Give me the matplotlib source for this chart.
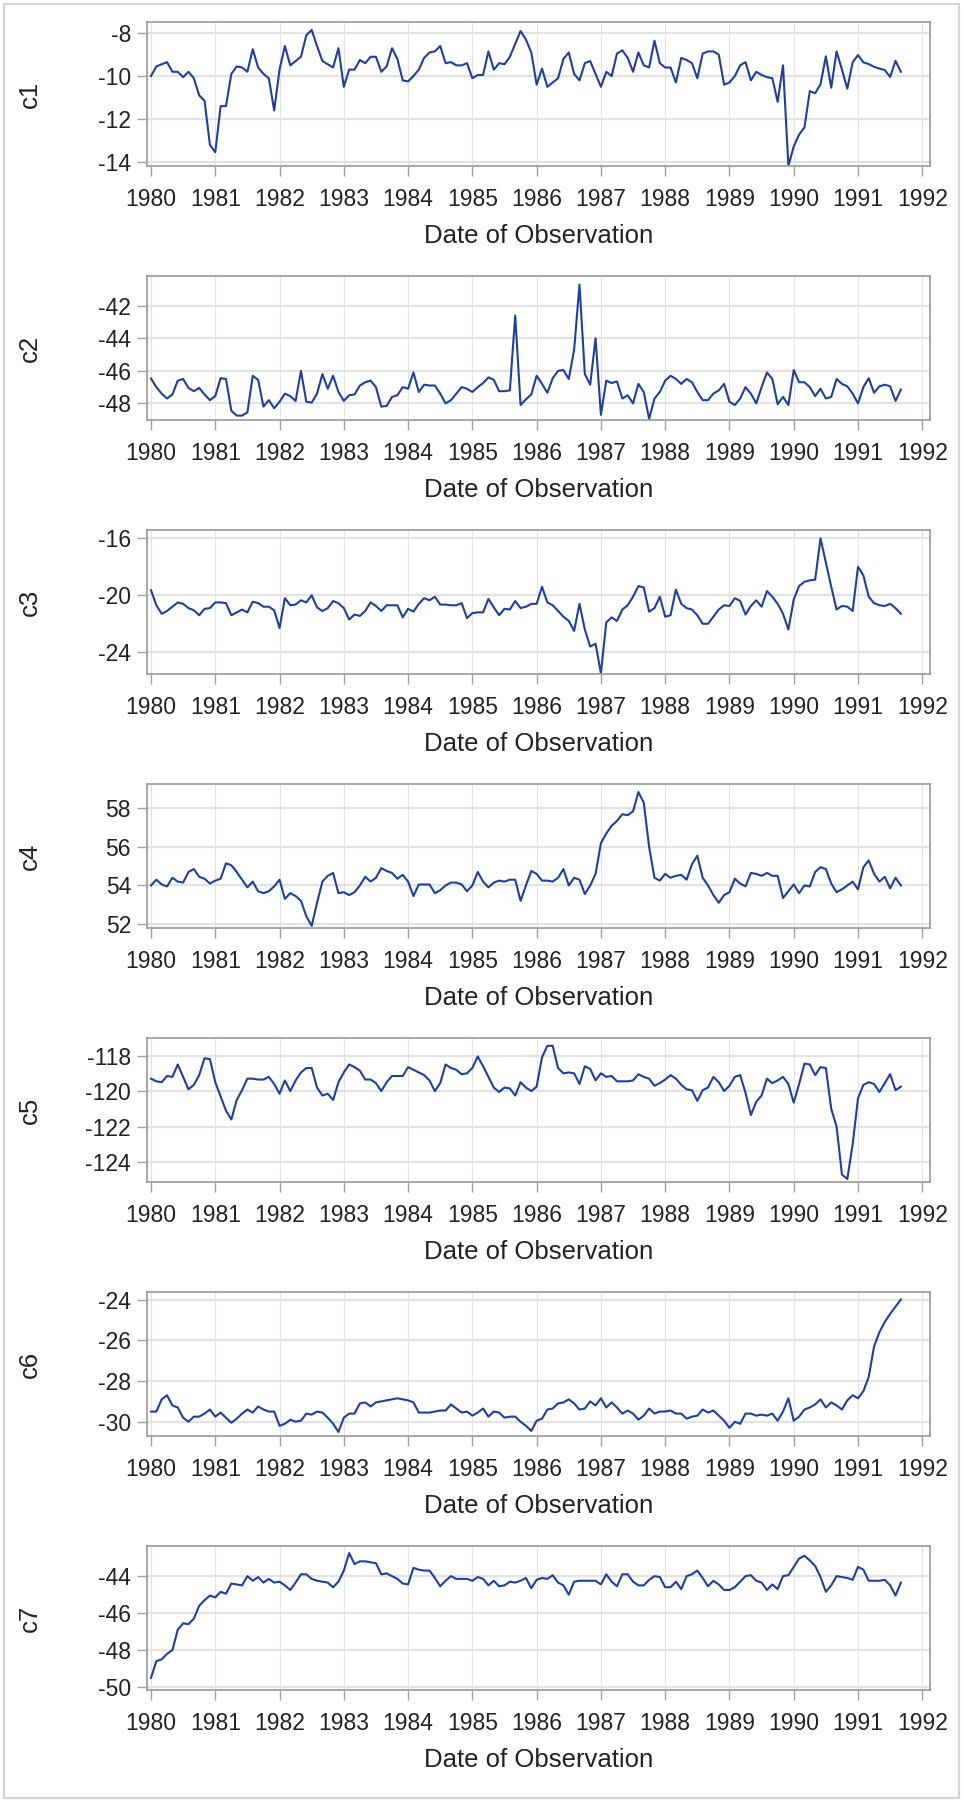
import numpy as np
import matplotlib.pyplot as plt
from matplotlib.patches import Rectangle

plt.rcParams['font.family'] = ['Liberation Sans', 'DejaVu Sans']
plt.rcParams['axes.unicode_minus'] = False

# monthly observations, Jan 1980 .. Sep 1991 (one row per year)
c1 = [-10.0, -9.55, -9.45, -9.35, -9.8, -9.8, -10.05, -9.8, -10.1, -10.9, -11.15, -13.2,
      -13.55, -11.4, -11.4, -9.9, -9.55, -9.6, -9.8, -8.75, -9.6, -9.9, -10.1, -11.6,
      -9.7, -8.6, -9.5, -9.3, -9.1, -8.1, -7.85, -8.6, -9.3, -9.45, -9.6, -8.7,
      -10.5, -9.7, -9.7, -9.25, -9.4, -9.1, -9.1, -9.8, -9.55, -8.7, -9.2, -10.2,
      -10.25, -10.0, -9.7, -9.15, -8.9, -8.85, -8.6, -9.4, -9.35, -9.5, -9.5, -9.4,
      -10.1, -9.95, -9.95, -8.85, -9.7, -9.4, -9.45, -9.1, -8.5, -7.9, -8.3, -8.9,
      -10.4, -9.65, -10.5, -10.3, -10.1, -9.2, -8.9, -9.9, -10.2, -9.4, -9.3, -9.9,
      -10.5, -9.8, -10.0, -8.95, -8.8, -9.15, -9.8, -8.9, -9.5, -9.6, -8.35, -9.4,
      -9.6, -9.6, -10.3, -9.15, -9.25, -9.4, -10.1, -8.95, -8.85, -8.85, -9.0, -10.4,
      -10.3, -10.0, -9.5, -9.35, -10.2, -9.8, -9.95, -10.05, -10.1, -11.2, -9.5, -14.18,
      -13.28, -12.73, -12.39, -10.7, -10.8, -10.38, -9.08, -10.54, -8.85, -9.7, -10.59, -9.36,
      -9.02, -9.36, -9.44, -9.57, -9.65, -9.72, -10.04, -9.29, -9.8]

c2 = [-46.47, -47.0, -47.4, -47.7, -47.45, -46.6, -46.5, -47.05, -47.25, -47.05, -47.45, -47.8,
      -47.55, -46.45, -46.5, -48.45, -48.75, -48.75, -48.55, -46.3, -46.55, -48.2, -47.8, -48.3,
      -47.9, -47.4, -47.55, -47.85, -46.0, -47.9, -47.95, -47.4, -46.2, -47.1, -46.3, -47.3,
      -47.85, -47.5, -47.45, -46.9, -46.7, -46.6, -47.0, -48.2, -48.15, -47.6, -47.5, -47.0,
      -47.1, -46.1, -47.3, -46.85, -46.9, -46.9, -47.4, -48.0, -47.8, -47.4, -47.0, -47.1,
      -47.3, -47.0, -46.75, -46.4, -46.55, -47.25, -47.25, -47.2, -42.6, -48.1, -47.75, -47.45,
      -46.3, -46.8, -47.35, -46.45, -46.0, -45.95, -46.5, -44.7, -40.7, -46.2, -46.85, -44.0,
      -48.7, -46.6, -46.75, -46.65, -47.7, -47.5, -48.0, -46.8, -47.3, -48.95, -47.7, -47.3,
      -46.6, -46.3, -46.5, -46.8, -46.5, -46.7, -47.3, -47.8, -47.8, -47.4, -47.2, -46.8,
      -47.9, -48.1, -47.7, -47.0, -47.4, -48.0, -47.0, -46.1, -46.5, -48.05, -47.6, -48.1,
      -45.95, -46.7, -46.7, -47.0, -47.55, -47.1, -47.7, -47.6, -46.5, -46.8, -46.95, -47.4,
      -48.0, -47.0, -46.45, -47.35, -46.95, -46.85, -46.95, -47.85, -47.15]

c3 = [-19.64, -20.7, -21.3, -21.1, -20.8, -20.5, -20.6, -20.9, -21.05, -21.4, -20.95, -20.9,
      -20.5, -20.5, -20.55, -21.4, -21.2, -21.0, -21.2, -20.45, -20.55, -20.8, -20.8, -21.05,
      -22.3, -20.2, -20.7, -20.65, -20.35, -20.5, -20.0, -20.85, -21.1, -20.9, -20.4, -20.55,
      -20.9, -21.7, -21.35, -21.45, -21.1, -20.5, -20.75, -21.1, -20.7, -20.7, -20.7, -21.55,
      -20.95, -21.15, -20.6, -20.2, -20.35, -20.1, -20.65, -20.65, -20.7, -20.7, -20.55, -21.6,
      -21.25, -21.2, -21.2, -20.25, -20.85, -21.4, -20.95, -21.0, -20.4, -20.9, -20.8, -20.6,
      -20.6, -19.4, -20.5, -20.7, -21.1, -21.5, -21.8, -22.5, -20.6, -22.4, -23.6, -23.4,
      -25.5, -21.9, -21.55, -21.8, -21.0, -20.7, -20.1, -19.35, -19.45, -21.15, -20.9, -20.1,
      -21.5, -21.4, -19.6, -20.6, -20.9, -21.0, -21.4, -22.0, -22.0, -21.5, -21.0, -20.7,
      -20.75, -20.2, -20.4, -21.35, -20.75, -20.35, -20.8, -19.7, -20.1, -20.6, -21.3, -22.4,
      -20.3, -19.35, -19.05, -18.95, -18.9, -16.0, -17.7, -19.4, -21.0, -20.75, -20.8, -21.1,
      -18.0, -18.6, -20.1, -20.55, -20.7, -20.75, -20.6, -20.9, -21.3]

c4 = [54.0, 54.3, 54.05, 53.95, 54.4, 54.2, 54.15, 54.7, 54.85, 54.45, 54.35, 54.1,
      54.25, 54.35, 55.15, 55.05, 54.7, 54.3, 53.9, 54.2, 53.7, 53.6, 53.7, 53.95,
      54.3, 53.3, 53.6, 53.45, 53.2, 52.4, 51.9, 53.1, 54.2, 54.5, 54.65, 53.6,
      53.65, 53.5, 53.65, 54.0, 54.45, 54.2, 54.4, 54.9, 54.75, 54.65, 54.35, 54.55,
      54.2, 53.45, 54.05, 54.05, 54.05, 53.6, 53.75, 54.0, 54.15, 54.15, 54.05, 53.7,
      54.0, 54.7, 54.2, 53.9, 54.15, 54.25, 54.2, 54.3, 54.3, 53.2, 54.0, 54.75,
      54.6, 54.25, 54.25, 54.2, 54.4, 54.85, 54.0, 54.4, 54.3, 53.55, 54.0, 54.6,
      56.2, 56.7, 57.1, 57.35, 57.7, 57.65, 57.85, 58.85, 58.3, 56.0, 54.4, 54.25,
      54.6, 54.4, 54.5, 54.55, 54.3, 55.1, 55.55, 54.4, 54.0, 53.5, 53.1, 53.5,
      53.65, 54.35, 54.1, 53.95, 54.65, 54.6, 54.5, 54.65, 54.5, 54.5, 53.35, 53.7,
      54.05, 53.6, 54.0, 53.95, 54.7, 54.95, 54.85, 54.1, 53.65, 53.8, 54.0, 54.2,
      53.8, 54.95, 55.3, 54.6, 54.2, 54.45, 53.85, 54.4, 54.0]

c5 = [-119.3, -119.45, -119.5, -119.15, -119.2, -118.5, -119.2, -119.9, -119.65, -119.1, -118.15, -118.2,
      -119.5, -120.3, -121.1, -121.6, -120.5, -119.95, -119.3, -119.3, -119.35, -119.35, -119.2, -119.6,
      -120.15, -119.4, -120.0, -119.4, -118.95, -118.7, -118.7, -119.8, -120.25, -120.15, -120.5, -119.5,
      -118.95, -118.5, -118.65, -118.85, -119.35, -119.35, -119.55, -120.0, -119.5, -119.15, -119.15, -119.15,
      -118.65, -118.8, -118.95, -119.1, -119.4, -120.0, -119.55, -118.5, -118.7, -118.8, -119.05, -119.0,
      -118.7, -118.05, -118.6, -119.2, -119.8, -120.05, -119.8, -119.85, -120.25, -119.5, -119.8, -120.0,
      -119.75, -118.1, -117.45, -117.45, -118.7, -119.0, -118.95, -119.0, -119.6, -118.6, -118.75, -119.4,
      -119.0, -119.2, -119.15, -119.45, -119.45, -119.45, -119.4, -119.05, -119.2, -119.3, -119.7, -119.55,
      -119.35, -119.1, -119.3, -119.65, -119.9, -119.95, -120.55, -119.95, -119.8, -119.2, -119.5, -120.0,
      -119.7, -119.2, -119.1, -120.1, -121.35, -120.6, -120.25, -119.3, -119.55, -119.4, -119.2, -119.6,
      -120.65, -119.6, -118.45, -118.5, -119.1, -118.65, -118.7, -121.0, -122.0, -124.7, -124.95, -123.0,
      -120.4, -119.65, -119.5, -119.6, -120.05, -119.55, -119.05, -119.95, -119.75]

c6 = [-29.5, -29.5, -28.9, -28.7, -29.2, -29.3, -29.8, -30.0, -29.75, -29.75, -29.6, -29.4,
      -29.75, -29.55, -29.8, -30.05, -29.85, -29.6, -29.4, -29.55, -29.25, -29.4, -29.5, -29.5,
      -30.2, -30.1, -29.9, -30.0, -29.95, -29.6, -29.65, -29.5, -29.55, -29.8, -30.1, -30.5,
      -29.8, -29.6, -29.6, -29.1, -29.05, -29.25, -29.05, -29.0, -28.95, -28.9, -28.85, -28.9,
      -28.95, -29.05, -29.55, -29.55, -29.55, -29.5, -29.45, -29.45, -29.15, -29.35, -29.55, -29.5,
      -29.7, -29.55, -29.35, -29.75, -29.5, -29.55, -29.8, -29.75, -29.75, -30.0, -30.2, -30.45,
      -29.95, -29.85, -29.4, -29.35, -29.1, -29.05, -28.9, -29.1, -29.4, -29.35, -29.0, -29.2,
      -28.85, -29.3, -29.05, -29.3, -29.6, -29.45, -29.6, -29.9, -29.7, -29.35, -29.6, -29.5,
      -29.5, -29.45, -29.6, -29.6, -29.85, -29.75, -29.7, -29.4, -29.55, -29.45, -29.7, -29.95,
      -30.3, -30.0, -30.1, -29.6, -29.6, -29.7, -29.65, -29.7, -29.6, -29.95, -29.5, -28.85,
      -29.95, -29.75, -29.4, -29.3, -29.15, -28.9, -29.3, -29.05, -29.2, -29.4, -28.95, -28.7,
      -28.85, -28.5, -27.8, -26.3, -25.6, -25.1, -24.7, -24.35, -24.0]

c7 = [-49.5, -48.6, -48.5, -48.2, -48.0, -46.9, -46.55, -46.6, -46.3, -45.6, -45.3, -45.05,
      -45.15, -44.85, -44.95, -44.4, -44.45, -44.5, -44.0, -44.25, -44.05, -44.35, -44.15, -44.35,
      -44.3, -44.5, -44.75, -44.35, -43.9, -43.9, -44.15, -44.25, -44.3, -44.35, -44.6, -44.3,
      -43.7, -42.75, -43.35, -43.2, -43.2, -43.25, -43.3, -43.9, -43.85, -44.0, -44.15, -44.4,
      -44.45, -43.55, -43.65, -43.7, -43.7, -44.1, -44.55, -44.25, -44.0, -44.15, -44.15, -44.15,
      -44.25, -44.05, -44.15, -44.5, -44.25, -44.55, -44.5, -44.3, -44.35, -44.25, -44.1, -44.65,
      -44.2, -44.1, -44.15, -43.95, -44.35, -44.5, -45.0, -44.3, -44.25, -44.25, -44.25, -44.25,
      -44.45, -43.9, -44.3, -44.55, -43.9, -43.9, -44.3, -44.5, -44.5, -44.2, -44.0, -44.05,
      -44.6, -44.6, -44.3, -44.7, -44.0, -43.9, -43.7, -44.1, -44.55, -44.25, -44.45, -44.75,
      -44.75, -44.6, -44.3, -44.0, -43.95, -44.25, -44.35, -44.75, -44.45, -44.7, -44.0, -43.95,
      -43.5, -43.05, -42.9, -43.15, -43.45, -44.05, -44.85, -44.5, -44.0, -44.05, -44.1, -44.2,
      -43.5, -43.65, -44.25, -44.25, -44.25, -44.2, -44.5, -45.05, -44.35]

names = ['c1', 'c2', 'c3', 'c4', 'c5', 'c6', 'c7']
y_ticks = [[-14, -12, -10, -8], [-48, -46, -44, -42], [-24, -20, -16], [52, 54, 56, 58],
           [-124, -122, -120, -118], [-30, -28, -26, -24], [-50, -48, -46, -44]]
y_limits = [(-14.19, -7.48), (-49.02, -40.17), (-25.53, -15.41), (51.79, 59.27),
            (-125.12, -117.01), (-30.7, -23.63), (-50.16, -42.37)]
years = list(range(1980, 1993))

series = [c1, c2, c3, c4, c5, c6, c7]
x = 1980 + np.arange(len(c1)) / 12.0

W, H = 963, 1802
fig = plt.figure(figsize=(W / 100, H / 100), dpi=100)
fig.patches.append(Rectangle((4 / W, 4 / H), 1 - 8 / W, 1 - 8 / H, transform=fig.transFigure,
                             fill=False, edgecolor='#d4d4d4', linewidth=1.5))

line_color = '#1f3f9c'
frame_color = '#a0a0a0'
grid_color = '#e3e3e3'

for i, (name, vals) in enumerate(zip(names, series)):
    top = 22 + 254 * i
    ax = fig.add_axes([147 / W, 1 - (top + 144) / H, 783 / W, 144 / H])
    ax.plot(x, vals, color=line_color, linewidth=1.5)

    ax.set_xlim(1979.938, 1992.12)
    ax.set_ylim(*y_limits[i])
    ax.set_xticks(years)
    ax.set_yticks(y_ticks[i])

    # light reference lines behind the series
    for yv in y_ticks[i]:
        ax.axhline(yv, color=grid_color, linewidth=1.6, zorder=0)
    for xv in years:
        ax.axvline(xv, color=grid_color, linewidth=0.8, zorder=0)

    for s in ax.spines.values():
        s.set_color(frame_color)
        s.set_linewidth(1.3)
    ax.tick_params(axis='both', colors=frame_color, labelcolor='#222222',
                   labelsize=16.5, length=7.5, width=1.0)
    ax.tick_params(axis='x', pad=8)
    ax.tick_params(axis='y', pad=4)

    ax.set_xlabel('Date of Observation', fontsize=18.5, color='#222222')
    ax.xaxis.set_label_coords(0.5, -0.40)
    ax.set_ylabel(name, fontsize=18.5, color='#222222')
    ax.yaxis.set_label_coords(-0.134, 0.5)

fig.savefig('out.png', dpi=100)
